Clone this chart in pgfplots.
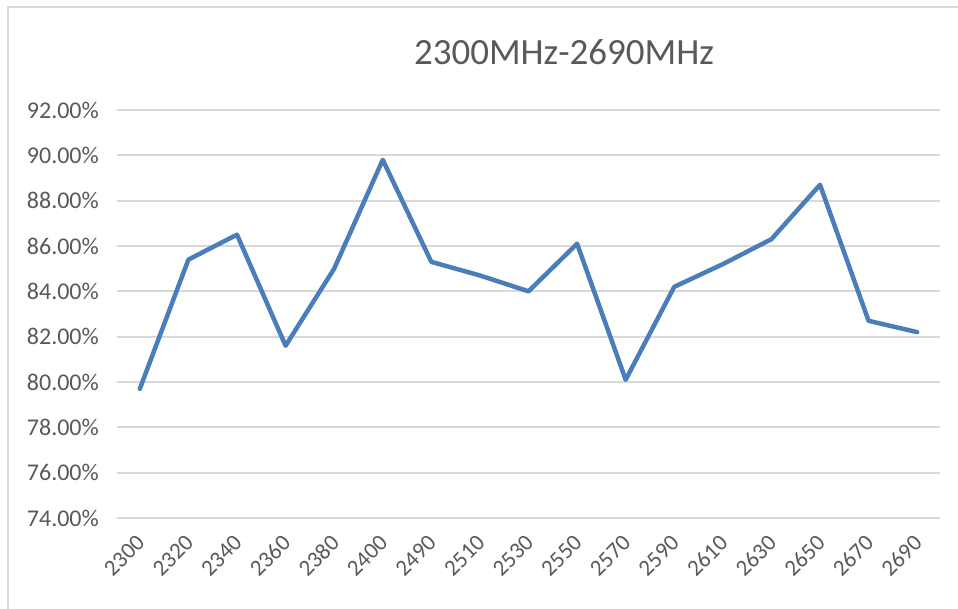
\documentclass[border=0pt]{standalone}
\usepackage{fontspec}
\setmainfont{Carlito}
\usepackage{pgfplots}
\pgfplotsset{compat=1.18}
\definecolor{txt}{RGB}{89,89,89}
\definecolor{gridc}{RGB}{217,217,217}
\definecolor{linec}{RGB}{74,126,187}
\begin{document}
\begin{tikzpicture}[x=1pt,y=1pt]
\useasboundingbox (-117,-90) rectangle (841,518);
\draw[gridc, line width=2pt] (-109,-92) -- (-109,511) -- (845,511);
\node[txt, font=\fontsize{37}{43}\selectfont] at (447,466) {2300MHz-2690MHz};
\begin{axis}[
  at={(0,0)}, anchor=south west,
  scale only axis, width=823pt, height=408pt,
  xmin=-0.47, xmax=16.47, ymin=74, ymax=92,
  axis line style={draw=none},
  tick style={draw=none}, major tick length=0pt,
  ymajorgrids, grid style={gridc, line width=2pt},
  ytick={74,76,78,80,82,84,86,88,90,92},
  yticklabels={74.00\%,76.00\%,78.00\%,80.00\%,82.00\%,84.00\%,86.00\%,88.00\%,90.00\%,92.00\%},
  xtick={0,...,16},
  xticklabels={2300,2320,2340,2360,2380,2400,2490,2510,2530,2550,2570,2590,2610,2630,2650,2670,2690},
  ticklabel style={txt, font=\fontsize{24}{28}\selectfont, inner sep=0pt},
  yticklabel style={anchor=east, xshift=-18pt},
  xticklabel style={font=\fontsize{23}{27}\selectfont, xshift=1pt, yshift=-21pt, rotate=45, anchor=east},
  clip=false,
]
\addplot[linec, line width=4.5pt, line join=round, line cap=round, mark=none] coordinates {
(0,79.7) (1,85.4) (2,86.5) (3,81.6) (4,85.0) (5,89.8) (6,85.3) (7,84.7) (8,84.0)
(9,86.1) (10,80.1) (11,84.2) (12,85.2) (13,86.3) (14,88.7) (15,82.7) (16,82.2)
};
\end{axis}
\end{tikzpicture}
\end{document}
